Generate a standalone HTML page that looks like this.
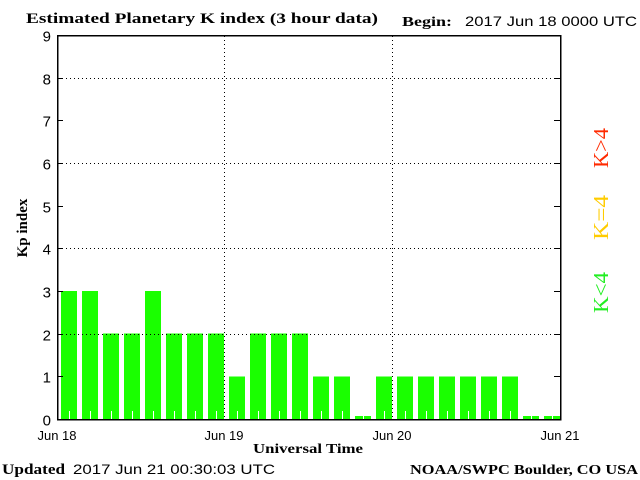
<!DOCTYPE html>
<html><head><style>
html,body{margin:0;padding:0;background:#fff;width:640px;height:480px;overflow:hidden}
svg text{font-family:"Liberation Sans",sans-serif}
svg text.s{font-family:"Liberation Serif",serif;font-weight:bold}
svg text.r{font-family:"Liberation Serif",serif;font-weight:normal}
</style></head><body>
<svg id="c" width="640" height="480" xmlns="http://www.w3.org/2000/svg" shape-rendering="crispEdges">
<text x="26" y="23" class="s" font-size="15" textLength="352" lengthAdjust="spacingAndGlyphs">Estimated Planetary K index (3 hour data)</text>
<text x="402" y="26" class="s" font-size="14" textLength="50" lengthAdjust="spacingAndGlyphs">Begin:</text>
<text x="465" y="26" font-size="14" textLength="172" lengthAdjust="spacingAndGlyphs">2017 Jun 18 0000 UTC</text>
<g id="bars" fill="#1aff00"></g>
<g id="grid" stroke="#000" stroke-width="1" stroke-dasharray="1,3" fill="none"></g>
<rect x="57.5" y="35.5" width="503" height="384" fill="none" stroke="#000" stroke-width="1.5"/>
<g id="ticks" stroke="#000" stroke-width="1"></g>
<g id="yl" font-size="15" text-anchor="end"></g>
<text x="0" y="0" class="s" font-size="15" transform="translate(27,228) rotate(-90)" text-anchor="middle">Kp index</text>
<g font-size="13" text-anchor="middle">
<text x="57" y="440">Jun 18</text><text x="224" y="440">Jun 19</text>
<text x="392" y="440">Jun 20</text><text x="560" y="440">Jun 21</text>
</g>
<text x="253" y="453" class="s" font-size="14" textLength="110" lengthAdjust="spacingAndGlyphs">Universal Time</text>
<text x="2" y="474" class="s" font-size="15" textLength="63" lengthAdjust="spacingAndGlyphs">Updated</text>
<text x="73" y="474" font-size="14" textLength="202" lengthAdjust="spacingAndGlyphs">2017 Jun 21 00:30:03 UTC</text>
<text x="410" y="474" class="s" font-size="14" textLength="228" lengthAdjust="spacingAndGlyphs">NOAA/SWPC Boulder, CO USA</text>
<text class="r" font-size="21" transform="translate(608,168) rotate(-90)" fill="#ff2a00" textLength="40" lengthAdjust="spacingAndGlyphs">K&gt;4</text>
<text class="r" font-size="21" transform="translate(608,240) rotate(-90)" fill="#ffcc00" textLength="45" lengthAdjust="spacingAndGlyphs">K=4</text>
<text class="r" font-size="21" transform="translate(608,313) rotate(-90)" fill="#22ee22" textLength="41" lengthAdjust="spacingAndGlyphs">K&lt;4</text>
</svg>
<script>
var NS="http://www.w3.org/2000/svg";
function el(p,t,a,txt){var e=document.createElementNS(NS,t);for(var k in a)e.setAttribute(k,a[k]);if(txt!=null)e.textContent=txt;document.getElementById(p).appendChild(e);}
var v=[3,3,2,2,3,2,2,2,1,2,2,2,1,1,0,1,1,1,1,1,1,1,0,0];
var B=419,U=42.67,L=57;
v.forEach(function(k,i){var x=L+21*i+4;var h=k==0?3:k*U;el("bars","rect",{x:x,y:B-h,width:16,height:h});
el("bars","rect",{x:x+8,y:B-8,width:1,height:8,fill:"#fff"});});
[2,4,6,8].forEach(function(k){var y=Math.round(B-k*U)+0.5;el("grid","line",{x1:58,x2:560,y1:y,y2:y});});
[224,392].forEach(function(x){el("grid","line",{x1:x+0.5,x2:x+0.5,y1:36,y2:419});});
for(var k=0;k<=9;k++){var y=Math.round(B-k*U)+0.5;el("ticks","line",{x1:57,x2:63,y1:y,y2:y});el("ticks","line",{x1:554,x2:560,y1:y,y2:y});
el("yl","text",{x:51,y:y+6},String(k));}
</script>
</body></html>
